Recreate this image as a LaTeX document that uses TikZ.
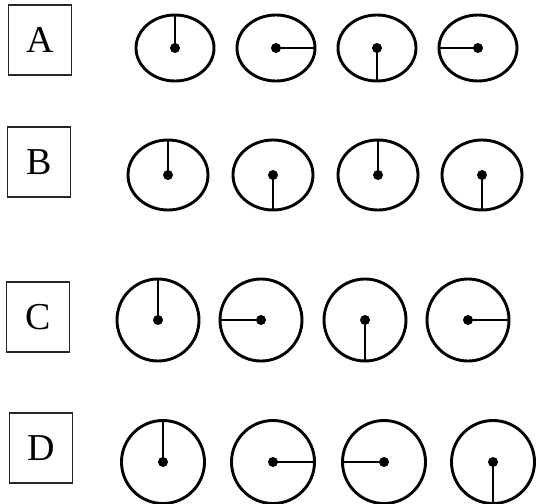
\documentclass[tikz,border=0pt]{standalone}
\usepackage{fontspec}
\setmainfont{Liberation Serif}
\usepackage{tikz}
\usetikzlibrary{shapes.geometric,positioning}
\tikzset{
  optbox/.style = {rectangle, draw=black!85, line width=1.2pt, inner sep=0pt,
                   minimum width=63pt, minimum height=70pt,
                   font=\fontsize{38}{40}\selectfont},
  dial/.style   = {ellipse, draw=black, line width=2.9pt, inner sep=0pt, outer sep=0pt},
  dialA/.style  = {dial, minimum width=78pt, minimum height=66pt},
  dialB/.style  = {dial, minimum width=80pt, minimum height=70pt},
  dialC/.style  = {dial, minimum width=82pt, minimum height=82pt},
  dialD/.style  = {dial, minimum width=83pt, minimum height=83pt},
  hand/.style   = {draw=black, line width=2.9pt},
  hub/.style    = {fill=black},
}

\begin{document}
\begin{tikzpicture}[x=1pt, y=-1pt]
  \useasboundingbox (0,0) rectangle (542,504);

  % row A
  \node[optbox] (lA) at (40,40) {A};
  \node[dialA] (a1) at (175,48) {};
  \node[dialA] (a2) at (276,48) {};
  \node[dialA] (a3) at (377,48) {};
  \node[dialA] (a4) at (478,48) {};
  \draw[hand] (a1.center) -- (a1.north); \draw[hand] (a2.center) -- (a2.east);
  \draw[hand] (a3.center) -- (a3.south); \draw[hand] (a4.center) -- (a4.west);
  \fill[hub] (a1) circle (5); \fill[hub] (a2) circle (5);
  \fill[hub] (a3) circle (5); \fill[hub] (a4) circle (5);

  % row B
  \node[optbox] (lB) at (39,162) {B};
  \node[dialB] (b1) at (168,175) {};
  \node[dialB] (b2) at (273,175) {};
  \node[dialB] (b3) at (378,175) {};
  \node[dialB] (b4) at (482,175) {};
  \draw[hand] (b1.center) -- (b1.north); \draw[hand] (b2.center) -- (b2.south);
  \draw[hand] (b3.center) -- (b3.north); \draw[hand] (b4.center) -- (b4.south);
  \fill[hub] (b1) circle (5); \fill[hub] (b2) circle (5);
  \fill[hub] (b3) circle (5); \fill[hub] (b4) circle (5);

  % row C
  \node[optbox] (lC) at (38,317) {C};
  \node[dialC] (c1) at (158,320) {};
  \node[dialC] (c2) at (261,320) {};
  \node[dialC] (c3) at (365,320) {};
  \node[dialC] (c4) at (468,320) {};
  \draw[hand] (c1.center) -- (c1.north); \draw[hand] (c2.center) -- (c2.west);
  \draw[hand] (c3.center) -- (c3.south); \draw[hand] (c4.center) -- (c4.east);
  \fill[hub] (c1) circle (5); \fill[hub] (c2) circle (5);
  \fill[hub] (c3) circle (5); \fill[hub] (c4) circle (5);

  % row D
  \node[optbox] (lD) at (41,448) {D};
  \node[dialD] (d1) at (163,462) {};
  \node[dialD] (d2) at (273,462) {};
  \node[dialD] (d3) at (384,462) {};
  \node[dialD] (d4) at (493,462) {};
  \draw[hand] (d1.center) -- (d1.north); \draw[hand] (d2.center) -- (d2.east);
  \draw[hand] (d3.center) -- (d3.west); \draw[hand] (d4.center) -- (d4.south);
  \fill[hub] (d1) circle (5); \fill[hub] (d2) circle (5);
  \fill[hub] (d3) circle (5); \fill[hub] (d4) circle (5);
\end{tikzpicture}
\end{document}
